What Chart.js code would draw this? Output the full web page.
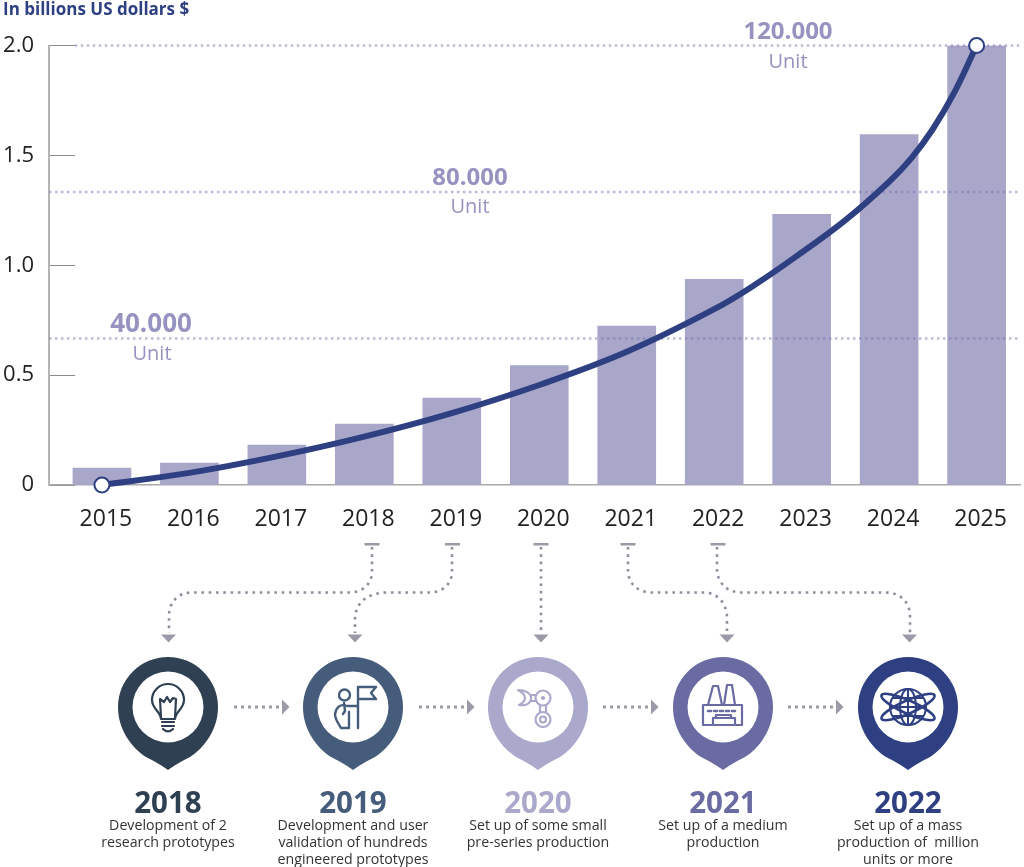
<!DOCTYPE html>
<html>
<head>
<meta charset="utf-8">
<script src="https://cdn.jsdelivr.net/npm/chart.js@4"></script>
<style>
html,body{margin:0;padding:0;background:#fff;}
#wrap{position:relative;width:1024px;height:867px;overflow:hidden;}
#c{position:absolute;left:0;top:0;}
#ov{position:absolute;left:0;top:0;pointer-events:none;}
#ov text{font-family:"Open Sans",sans-serif;text-anchor:middle;}
</style>
</head>
<body>
<div id="wrap">
<canvas id="c" width="1024" height="867"></canvas>
<svg id="ov" width="1024" height="867" viewBox="0 0 1024 867" xmlns="http://www.w3.org/2000/svg">
  <!-- unit labels -->
  <g fill="#9693c1">
    <text x="788" y="39" font-size="24" font-weight="700">120.000</text>
    <text x="788" y="68" font-size="20">Unit</text>
    <text x="470" y="185" font-size="24" font-weight="700">80.000</text>
    <text x="470" y="213" font-size="20">Unit</text>
    <text x="151" y="332" font-size="26" font-weight="700">40.000</text>
    <text x="152" y="360" font-size="20">Unit</text>
  </g>
  <!-- connectors -->
  <g fill="none" stroke="#8e8e9e" stroke-width="2.6" stroke-dasharray="2.6 4.7">
    <path d="M372 547V572C372 584 362 592.500 350 592.500H192C178 592.500 169 602 169 616V633"/>
    <path d="M452 547V572C452 584 442 592.500 430 592.500H388C368 592.500 355 602 355 620V633"/>
    <path d="M541 547V633"/>
    <path d="M628 547V570C628 584 638 592.500 652 592.500H704C718 592.500 727 604 727 618V633"/>
    <path d="M717 547V568C717 584 728 592.500 742 592.500H886C900 592.500 910 602 910 616V633"/>
  </g>
  <g fill="none" stroke="#9a9aa8" stroke-width="3" stroke-dasharray="3 4">
    <path d="M234 707H281"/><path d="M419 707H466"/><path d="M603 707H650"/><path d="M788 707H835"/>
  </g>
  <g fill="#9a9aa8">
    <rect x="364.500" y="543" width="15" height="2.500"/>
    <rect x="445" y="543" width="15" height="2.500"/>
    <rect x="533.500" y="543" width="15" height="2.500"/>
    <rect x="620.500" y="543" width="15" height="2.500"/>
    <rect x="710.500" y="543" width="15" height="2.500"/>
    <path d="M161 634.500H176L168.500 642.500Z"/>
    <path d="M347.500 634.500H362.500L355 642.500Z"/>
    <path d="M533.500 634.500H548.500L541 642.500Z"/>
    <path d="M719.500 634.500H734.500L727 642.500Z"/>
    <path d="M902 634.500H917L909.500 642.500Z"/>
    <path d="M282 699.500V714.500L289.500 707Z"/>
    <path d="M467 699.500V714.500L474.500 707Z"/>
    <path d="M651 699.500V714.500L658.500 707Z"/>
    <path d="M836 699.500V714.500L843.500 707Z"/>
  </g>
  <!-- pins -->
  <g id="pins"></g>
  <!-- icons -->
  <g fill="none" stroke="#2f4053" stroke-width="2.200" stroke-linejoin="round" stroke-linecap="round">
    <path d="M161 719C161 712 152 709 152 700A16 16 0 0 1 184 700C184 709 175 712 175 719Z"/>
    <path d="M161 718L160 699L164 702L167 697L170 702L173 698L176 699L175 718"/>
    <path d="M162 722H174M162 726H174"/><path d="M163 729Q168 734 173 729"/>
  </g>
  <g fill="none" stroke="#455c7b" stroke-width="2.400" stroke-linejoin="round" stroke-linecap="round">
    <circle cx="344.500" cy="695" r="5.500"/>
    <path d="M358 728V687H376L371 693L376 699H358"/>
    <path d="M357 706H347C340 703 336 708 335 714C335 720 339 724 341 728H349V712"/>
    <path d="M344 703L345 711L343 714"/>
  </g>
  <g fill="none" stroke="#aaa8cb" stroke-width="2.200" stroke-linejoin="round" stroke-linecap="round">
    <circle cx="543" cy="698" r="7.500"/><circle cx="543" cy="698" r="1" fill="#aaa8cb"/>
    <circle cx="543" cy="719.500" r="7.500"/><circle cx="543" cy="719.500" r="3"/>
    <path d="M540 705V712M546 705V712"/><path d="M535.500 695H531M535.500 701H531"/>
    <path d="M518 690C525 690 531 693 531 698C531 704 525 706 519 705C523 703 525 701 525 698C525 695 522 692 518 690Z"/>
  </g>
  <g fill="none" stroke="#696ba2" stroke-width="2.200" stroke-linejoin="round" stroke-linecap="round">
    <path d="M703 725V705H742V725Z"/>
    <path d="M708 705L713 686H718L722 705M724 705L727 685H732L735 705"/>
    <path d="M713 725V718H735V725M716 718V715H731V718"/>
    <path d="M708 711H711M714 711H717M720 711H723M726 711H729M732 711H735" stroke-width="2.600"/>
  </g>
  <g fill="none" stroke="#2e3f82" stroke-width="2" stroke-linecap="round">
    <circle cx="908" cy="707" r="18"/>
    <ellipse cx="908" cy="707" rx="8" ry="18"/>
    <path d="M908 689V725M890.500 707H925.500M893 698H923M893 716H923"/>
    <g stroke-width="2.600">
      <ellipse cx="908" cy="707" rx="29" ry="6.500" transform="rotate(24 908 707)"/>
      <ellipse cx="908" cy="707" rx="29" ry="6.500" transform="rotate(-24 908 707)"/>
    </g>
  </g>
  <!-- year and description text -->
  <g font-size="29.500" font-weight="700">
    <text x="168" y="813" fill="#2f4053">2018</text>
    <text x="353" y="813" fill="#455c7b">2019</text>
    <text x="538" y="813" fill="#aaa8cb">2020</text>
    <text x="723" y="813" fill="#696ba2">2021</text>
    <text x="908" y="813" fill="#2e3f82">2022</text>
  </g>
  <g font-size="14.200" fill="#333">
    <text x="168" y="830">Development of 2</text>
    <text x="168" y="847">research prototypes</text>
    <text x="353" y="830">Development and user</text>
    <text x="353" y="847">validation of hundreds</text>
    <text x="353" y="864">engineered prototypes</text>
    <text x="538" y="830">Set up of some small</text>
    <text x="538" y="847">pre-series production</text>
    <text x="723" y="830">Set up of a medium</text>
    <text x="723" y="847">production</text>
    <text x="908" y="830">Set up of a mass</text>
    <text x="908" y="847">production of&#160; million</text>
    <text x="908" y="864">units or more</text>
  </g>
</svg>
</div>
<script>
const years = [2015,2016,2017,2018,2019,2020,2021,2022,2023,2024,2025];
const barValues = [0.077,0.10,0.182,0.277,0.395,0.543,0.723,0.936,1.232,1.595,2.0];
const curveYears = [2015,2016,2017,2018,2019,2020,2021,2022,2022.5,2023,2023.5,2024,2024.25,2024.5,2024.75,2025];
const curveValues = [0,0.055,0.13,0.22,0.327,0.455,0.606,0.80,0.92,1.058,1.205,1.38,1.485,1.62,1.79,2.0];
const unitLevels = [40000,80000,120000];
const unitsPerBillion = 60000;
const yTicks = [0,0.5,1.0,1.5,2.0];
const pinColors = ['#2f4053','#455c7b','#aaa8cb','#696ba2','#2e3f82'];
const pinCenters = [168,353,538,723,908];

// pins (decorative infographic)
const pinsG = document.getElementById('pins');
pinCenters.forEach((cx,i)=>{
  const p = document.createElementNS('http://www.w3.org/2000/svg','path');
  p.setAttribute('d',`M${cx-50} 707A50 50 0 1 1 ${cx+50} 707C${cx+50} 730 ${cx+36} 748 ${cx+22} 757Q${cx+8} 764 ${cx} 770Q${cx-8} 764 ${cx-22} 757C${cx-36} 748 ${cx-50} 730 ${cx-50} 707Z`);
  p.setAttribute('fill',pinColors[i]);
  pinsG.appendChild(p);
  const c = document.createElementNS('http://www.w3.org/2000/svg','circle');
  c.setAttribute('cx',cx);c.setAttribute('cy',707);c.setAttribute('r',35.5);c.setAttribute('fill','#fff');
  pinsG.appendChild(c);
});

const xMin = 2014.395, xMax = 2025.502, topDotStart = 2014.69;
const levelDataset = (lvl,i)=>({
  type:'line',
  data:[{x:i===2?topDotStart:xMin,y:lvl/unitsPerBillion},{x:xMax,y:lvl/unitsPerBillion}],
  borderColor:'rgba(120,112,180,0.5)',borderWidth:2.4,borderDash:[2.4,3.6],
  pointRadius:0,order:2,tension:0,clip:false
});
new Chart(document.getElementById('c'),{
  type:'bar',
  data:{datasets:[
    {type:'line',data:curveYears.map((x,i)=>({x,y:curveValues[i]})),
     borderColor:'#2e3f82',borderWidth:6,tension:0.4,
     pointRadius:curveYears.map((_,i)=>(i===0||i===curveYears.length-1)?7.5:0),
     pointBackgroundColor:'#fff',pointBorderColor:'#2e3f82',pointBorderWidth:2,
     order:1,clip:false},
    ...unitLevels.map(levelDataset),
    {type:'bar',data:years.map((x,i)=>({x,y:barValues[i]})),
     backgroundColor:'#a9a7c9',barThickness:58,order:3}
  ]},
  options:{
    responsive:false,animation:false,
    layout:{autoPadding:false,padding:{left:3,right:2,top:0,bottom:0}},
    plugins:{
      legend:{display:false},tooltip:{enabled:false},
      title:{display:true,text:'In billions US dollars $',align:'start',color:'#2e3f82',
        font:{family:'"Open Sans"',size:17,weight:'700',lineHeight:1.2},
        padding:{top:0,bottom:25.1}}
    },
    scales:{
      x:{type:'linear',min:xMin,max:xMax,offset:false,
        grid:{display:false,drawTicks:false},
        border:{display:true,color:'#a8a8a8',width:1.5},
        afterFit:s=>{s.height=382;},
        ticks:{includeBounds:false,stepSize:1,autoSkip:false,maxRotation:0,labelOffset:4,padding:21,
          color:'#222',font:{family:'"Open Sans"',size:23},
          callback:v=>years.includes(v)?String(v):''}},
      y:{min:0,max:2,
        grid:{drawOnChartArea:false,drawTicks:true,tickLength:-26,color:'#8a8a8a',lineWidth:1},
        border:{display:true,color:'#b5b5b5',width:2},
        afterFit:s=>{s.width=46;s.paddingTop=0;s.paddingBottom=0;},
        afterBuildTicks:s=>{s.ticks=yTicks.map(value=>({value}));},
        ticks:{padding:41,color:'#222',font:{family:'"Open Sans"',size:22},
          callback:v=>v===0?'0':v.toFixed(1)}}
    }
  }
});
</script>
</body>
</html>
